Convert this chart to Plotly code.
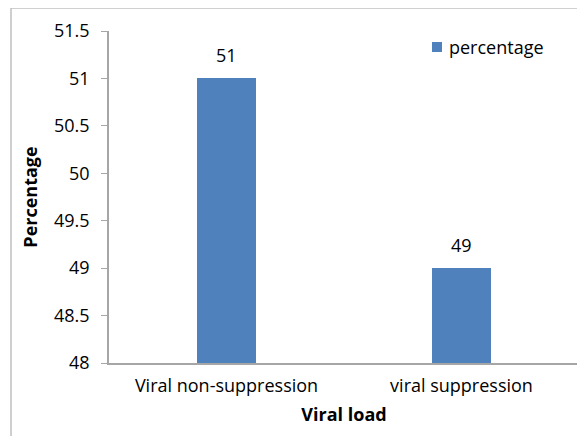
import plotly.graph_objects as go

categories = ["Viral non-suppression", "viral suppression"]
values = [51, 49]
series_name = "percentage"

# The page body adds an 8px offset; work in reference pixel coords and shift.
OFF = 8
W, H = 585 - OFF, 436 - OFF
L, T = 109 - OFF, 31 - OFF
R = W - (579 - OFF)
B = H - (363 - OFF)
pw, ph = W - L - R, H - T - B
BAR_COLOR = "#4F81BD"

def px_x(x):
    return (x - OFF - L) / pw

def px_y(y):
    return (H - B - (y - OFF)) / ph

fig = go.Figure()
fig.add_trace(go.Bar(
    x=categories, y=values, name=series_name,
    marker=dict(color=BAR_COLOR, line=dict(width=0)),
    width=0.25,
    showlegend=False,
))

for c, v in zip(categories, values):
    fig.add_annotation(x=c, y=v, xref="x", yref="y", text=str(v),
                       showarrow=False, yanchor="bottom", yshift=9,
                       font=dict(size=18, color="#000000"))

font = "Open Sans, Liberation Sans, sans-serif"
fig.update_layout(
    width=W, height=H,
    margin=dict(l=L, r=R, t=T, b=B, autoexpand=False),
    paper_bgcolor="white", plot_bgcolor="white",
    font=dict(family=font, size=18, color="#000000"),
    showlegend=False,
    xaxis=dict(
        showline=True, linecolor="#a6a6a6", linewidth=1.5,
        ticks="", showgrid=False, automargin=False,
        tickfont=dict(size=18), ticklabelstandoff=6,
        title=dict(text="<b>Viral load</b>", font=dict(size=18), standoff=12),
    ),
    yaxis=dict(
        range=[48, 51.5], dtick=0.5, tick0=48,
        showline=True, linecolor="#a6a6a6", linewidth=1.5,
        ticks="outside", ticklen=6, tickcolor="#a6a6a6",
        showgrid=False, zeroline=False, automargin=False,
        tickfont=dict(size=18), ticklabelstandoff=8,
        title=dict(text="<b>Percentage</b>", font=dict(size=18), standoff=12),
    ),
    bargap=0,
)

# Legend (drawn manually to match reference placement)
fig.add_shape(type="rect", xref="paper", yref="paper",
              x0=px_x(432), x1=px_x(442), y0=px_y(52), y1=px_y(42),
              fillcolor=BAR_COLOR, line=dict(width=0))
fig.add_annotation(xref="paper", yref="paper", x=px_x(447), y=px_y(47),
                   text=series_name, showarrow=False, xanchor="left",
                   yanchor="middle", font=dict(size=18, color="#000000"))

# Outer chart border (left and top edges visible)
fig.add_shape(type="line", xref="paper", yref="paper",
              x0=px_x(11), x1=px_x(11), y0=px_y(8), y1=px_y(440),
              line=dict(color="#bfbfbf", width=1.5))
fig.add_shape(type="line", xref="paper", yref="paper",
              x0=px_x(11), x1=px_x(590), y0=px_y(8), y1=px_y(8),
              line=dict(color="#bfbfbf", width=1.5))

fig.write_html("out.html")
